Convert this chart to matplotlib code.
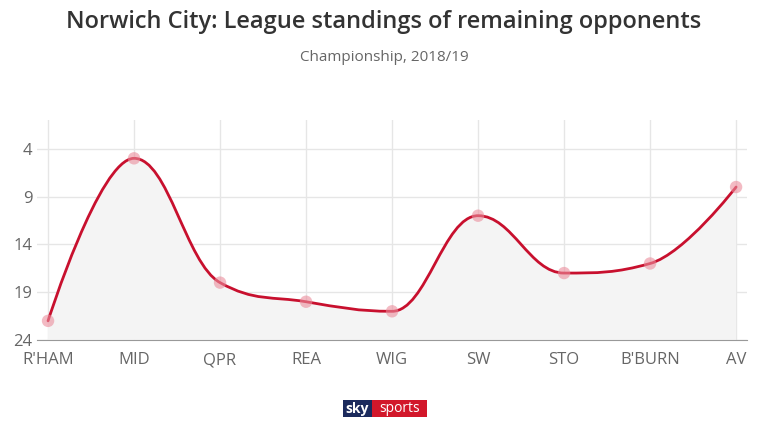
import numpy as np
import matplotlib
matplotlib.use("Agg")
import matplotlib.pyplot as plt
from matplotlib.path import Path
from matplotlib.patches import PathPatch, Rectangle

# League positions of Norwich's remaining opponents
teams = ["R'HAM", "MID", "QPR", "REA", "WIG", "SW", "STO", "B'BURN", "AV"]
positions = [22, 5, 18, 20, 21, 11, 17, 16, 8]
y_ticks = [4, 9, 14, 19, 24]

plt.rcParams['font.family'] = ['Open Sans', 'DejaVu Sans']


def spline_path(xs, ys, smoothing=1.5):
    # highcharts-like spline: bezier control points from neighbours
    n = len(xs)
    denom = smoothing + 1
    left = [None] * n
    right = [None] * n
    for i in range(n):
        x, y = xs[i], ys[i]
        if i == 0 or i == n - 1:
            left[i] = (x, y)
            right[i] = (x, y)
            continue
        lx, ly = xs[i - 1], ys[i - 1]
        nx, ny = xs[i + 1], ys[i + 1]
        lcx = (smoothing * x + lx) / denom
        lcy = (smoothing * y + ly) / denom
        rcx = (smoothing * x + nx) / denom
        rcy = (smoothing * y + ny) / denom
        corr = ((rcy - lcy) * (rcx - x)) / (rcx - lcx) + y - rcy
        lcy += corr
        rcy += corr
        if (lcy > ly and lcy > y) or (lcy < ly and lcy < y):
            lcy = max(ly, y) if lcy > ly else min(ly, y)
            rcy = 2 * y - lcy
        if (rcy > ny and rcy > y) or (rcy < ny and rcy < y):
            rcy = max(ny, y) if rcy > ny else min(ny, y)
            lcy = 2 * y - rcy
        left[i] = (lcx, lcy)
        right[i] = (rcx, rcy)
    verts = [(xs[0], ys[0])]
    codes = [Path.MOVETO]
    for i in range(1, n):
        verts += [right[i - 1], left[i], (xs[i], ys[i])]
        codes += [Path.CURVE4] * 3
    return verts, codes


x = np.arange(len(teams))
verts, codes = spline_path(list(x), positions)

fig = plt.figure(figsize=(7.68, 4.32), dpi=100)
ax = fig.add_axes([0.048, 0.213, 0.925, 0.509])

# area under the curve
fill_verts = verts + [(x[-1], 24), (x[0], 24), (x[0], positions[0])]
fill_codes = codes + [Path.LINETO, Path.LINETO, Path.CLOSEPOLY]
ax.add_patch(PathPatch(Path(fill_verts, fill_codes), facecolor='#f4f4f4',
                       edgecolor='none', zorder=1))
ax.add_patch(PathPatch(Path(verts, codes), facecolor='none', edgecolor='#c8102e',
                       lw=2, zorder=3, capstyle='round'))
ax.scatter(x, positions, s=80, color='#eb8d9c', alpha=0.6, edgecolor='none', zorder=4)

ax.set_xlim(-0.13, len(teams) - 1 + 0.13)
ax.set_ylim(24, 1)
ax.set_xticks(x)
ax.set_xticklabels(teams)
ax.set_yticks(y_ticks)
ax.tick_params(length=0, labelsize=12, labelcolor='#666666')
ax.tick_params(axis='x', pad=9)
ax.tick_params(axis='y', pad=3)

ax.grid(True, color='#e6e6e6', lw=1)
ax.set_axisbelow(True)
for s in ['top', 'right', 'left']:
    ax.spines[s].set_visible(False)
ax.spines['bottom'].set_color('#999999')
ax.spines['bottom'].set_zorder(5)

fig.text(0.5, 0.948, 'Norwich City: League standings of remaining opponents',
         ha='center', va='center', fontsize=17, fontweight='semibold', color='#333333')
fig.text(0.5, 0.866, 'Championship, 2018/19', ha='center', va='center',
         fontsize=11, color='#666666')

# sky sports logo (pixel box 343-427 x 400-417)
W, H = 768, 432
fig.patches.append(Rectangle((343 / W, 1 - 417 / H), 29 / W, 17 / H,
                             transform=fig.transFigure, fc='#1b2a5c', ec='none'))
fig.patches.append(Rectangle((372 / W, 1 - 417 / H), 55 / W, 17 / H,
                             transform=fig.transFigure, fc='#d2172a', ec='none'))
fig.text(357.5 / W, 1 - 408.5 / H, 'sky', ha='center', va='center', fontsize=10,
         fontweight='bold', color='white')
fig.text(399.5 / W, 1 - 408.5 / H, 'sports', ha='center', va='center', fontsize=10,
         color='white')

fig.savefig('out.png', dpi=100)
